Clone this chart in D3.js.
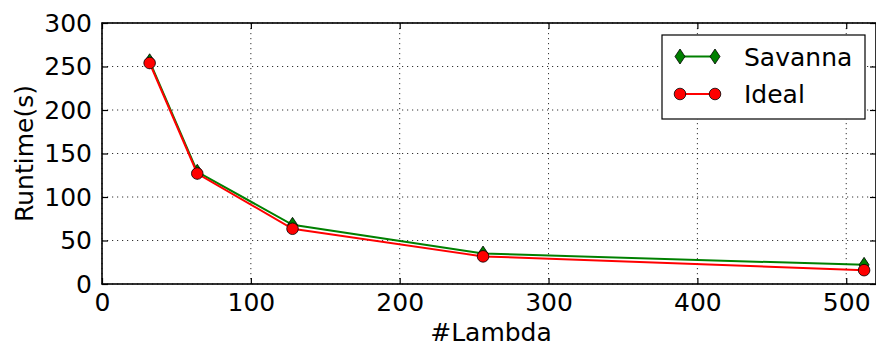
<!DOCTYPE html>
<html>
<head>
<meta charset="utf-8">
<script src="https://cdn.jsdelivr.net/npm/d3@7"></script>
<style>
  html, body { margin: 0; padding: 0; background: #fff; }
  svg { display: block; font-family: "DejaVu Sans", sans-serif; }
</style>
</head>
<body>
<svg id="chart" width="876" height="346"></svg>
<script>
// Runtime vs. number of Lambda workers
const lambdas = [32, 64, 128, 256, 512];
const savanna = [256, 129, 68, 35, 22];
const ideal = [254, 127, 63.5, 31.75, 15.9];
const xTicks = [0, 100, 200, 300, 400, 500];
const yTicks = [0, 50, 100, 150, 200, 250, 300];
const seriesNames = ["Savanna", "Ideal"];

const svg = d3.select("#chart");
const m = { left: 102, right: 876, top: 23, bottom: 284 };

const x = d3.scaleLinear().domain([0, 520]).range([m.left, m.right]);
const y = d3.scaleLinear().domain([0, 300]).range([m.bottom, m.top]);

// grid
const grid = svg.append("g");
xTicks.forEach(t => {
  grid.append("line")
    .attr("x1", x(t)).attr("x2", x(t)).attr("y1", m.top).attr("y2", m.bottom)
    .attr("stroke", "#000").attr("stroke-width", 1).attr("stroke-dasharray", "1.2,3.8")
    .attr("opacity", 0.8);
});
yTicks.forEach(t => {
  grid.append("line")
    .attr("x1", m.left).attr("x2", m.right).attr("y1", y(t)).attr("y2", y(t))
    .attr("stroke", "#000").attr("stroke-width", 1).attr("stroke-dasharray", "1.2,3.8")
    .attr("opacity", 0.8);
});

// axes with inward ticks
const tickLen = 6;
const fs = 25;
const xAxisB = d3.axisBottom(x).tickValues(xTicks).tickSizeInner(-tickLen).tickSizeOuter(0).tickPadding(9);
const xAxisT = d3.axisTop(x).tickValues(xTicks).tickSizeInner(-tickLen).tickSizeOuter(0).tickFormat("");
const yAxisL = d3.axisLeft(y).tickValues(yTicks).tickSizeInner(-tickLen).tickSizeOuter(0).tickPadding(10);
const yAxisR = d3.axisRight(y).tickValues(yTicks).tickSizeInner(-tickLen).tickSizeOuter(0).tickFormat("");

function style(g) {
  g.select(".domain").remove();
  g.selectAll(".tick line").attr("stroke", "#000").attr("stroke-width", 1.2);
  g.selectAll(".tick text").attr("fill", "#000").attr("font-size", fs)
    .attr("font-family", "DejaVu Sans, sans-serif");
}
svg.append("g").attr("transform", `translate(0,${m.bottom})`).call(xAxisB).call(style);
svg.append("g").attr("transform", `translate(0,${m.top})`).call(xAxisT).call(style);
svg.append("g").attr("transform", `translate(${m.left},0)`).call(yAxisL).call(style);
svg.append("g").attr("transform", `translate(${m.right},0)`).call(yAxisR).call(style);

// spines
svg.append("rect")
  .attr("x", m.left).attr("y", m.top)
  .attr("width", m.right - m.left).attr("height", m.bottom - m.top)
  .attr("fill", "none").attr("stroke", "#000").attr("stroke-width", 1.6);

// axis titles
svg.append("text")
  .attr("x", (m.left + m.right) / 2 + 2).attr("y", 341)
  .attr("text-anchor", "middle").attr("font-size", fs).text("#Lambda");
svg.append("text")
  .attr("transform", `translate(33,${(m.top + m.bottom) / 2}) rotate(-90)`)
  .attr("text-anchor", "middle").attr("font-size", fs).text("Runtime(s)");

// series
const line = d3.line().x(d => x(d[0])).y(d => y(d[1]));
const diamond = (cx, cy) => `M${cx},${cy - 7.5}L${cx + 5},${cy}L${cx},${cy + 7.5}L${cx - 5},${cy}Z`;

const sData = lambdas.map((l, i) => [l, savanna[i]]);
const iData = lambdas.map((l, i) => [l, ideal[i]]);

const plot = svg.append("g");
plot.append("path").datum(sData).attr("d", line)
  .attr("fill", "none").attr("stroke", "#008000").attr("stroke-width", 2);
plot.selectAll(".sv").data(sData).enter().append("path")
  .attr("d", d => diamond(x(d[0]), y(d[1])))
  .attr("fill", "#008000").attr("stroke", "#000").attr("stroke-width", 0.8);

plot.append("path").datum(iData).attr("d", line)
  .attr("fill", "none").attr("stroke", "#ff0000").attr("stroke-width", 2);
plot.selectAll(".id").data(iData).enter().append("circle")
  .attr("cx", d => x(d[0])).attr("cy", d => y(d[1])).attr("r", 5.8)
  .attr("fill", "#ff0000").attr("stroke", "#000").attr("stroke-width", 0.8);

// legend
const lg = svg.append("g");
lg.append("rect").attr("x", 662).attr("y", 35).attr("width", 203).attr("height", 84)
  .attr("fill", "#fff").attr("stroke", "#000").attr("stroke-width", 1.2);
const rows = [
  { name: seriesNames[0], color: "#008000", yy: 56.5, mk: "d" },
  { name: seriesNames[1], color: "#ff0000", yy: 94, mk: "o" }
];
rows.forEach(r => {
  lg.append("line").attr("x1", 680).attr("x2", 715).attr("y1", r.yy).attr("y2", r.yy)
    .attr("stroke", r.color).attr("stroke-width", 2);
  [680, 715].forEach(cx => {
    if (r.mk === "d") {
      lg.append("path").attr("d", diamond(cx, r.yy))
        .attr("fill", r.color).attr("stroke", "#000").attr("stroke-width", 0.8);
    } else {
      lg.append("circle").attr("cx", cx).attr("cy", r.yy).attr("r", 5.8)
        .attr("fill", r.color).attr("stroke", "#000").attr("stroke-width", 0.8);
    }
  });
  lg.append("text").attr("x", 744).attr("y", r.yy).attr("dy", "0.36em")
    .attr("font-size", fs).text(r.name);
});
</script>
</body>
</html>
